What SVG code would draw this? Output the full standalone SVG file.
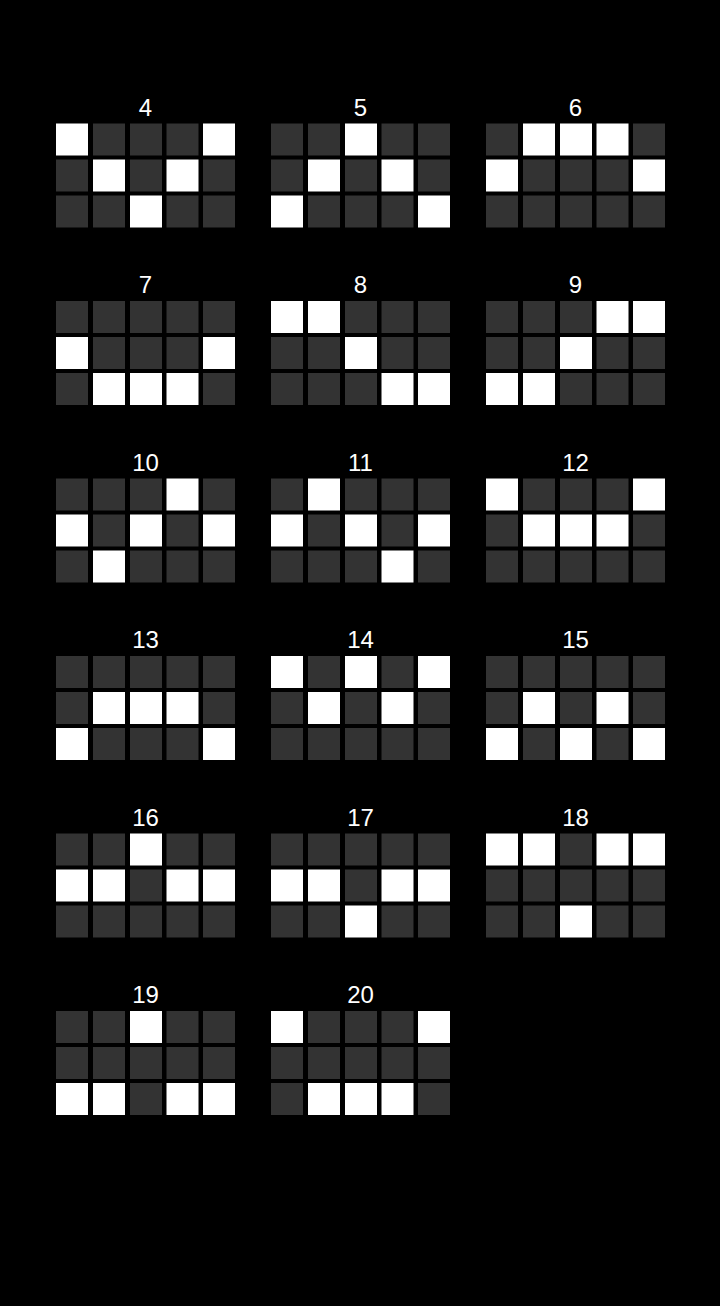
<svg xmlns="http://www.w3.org/2000/svg" width="720" height="1306" viewBox="0 0 720 1306">
<style>
.d{fill:#333333}
.w{fill:#ffffff}
rect.d,rect.w{width:32px;height:32px}
text{font-family:"Liberation Sans",Arial,sans-serif;font-size:24px;fill:#ffffff;text-anchor:middle}
</style>
<rect width="720" height="1306" fill="#000000"/>
<g id="p4" transform="translate(56,123.5)"><text x="89.5" y="-8">4</text>
<rect class="w" x="0" y="0" width="32" height="32"/><rect class="d" x="37" y="0" width="32" height="32"/><rect class="d" x="74" y="0" width="32" height="32"/><rect class="d" x="110.5" y="0" width="32" height="32"/><rect class="w" x="147" y="0" width="32" height="32"/>
<rect class="d" x="0" y="36" width="32" height="32"/><rect class="w" x="37" y="36" width="32" height="32"/><rect class="d" x="74" y="36" width="32" height="32"/><rect class="w" x="110.5" y="36" width="32" height="32"/><rect class="d" x="147" y="36" width="32" height="32"/>
<rect class="d" x="0" y="72" width="32" height="32"/><rect class="d" x="37" y="72" width="32" height="32"/><rect class="w" x="74" y="72" width="32" height="32"/><rect class="d" x="110.5" y="72" width="32" height="32"/><rect class="d" x="147" y="72" width="32" height="32"/>
</g>
<g id="p5" transform="translate(271,123.5)"><text x="89.5" y="-8">5</text>
<rect class="d" x="0" y="0" width="32" height="32"/><rect class="d" x="37" y="0" width="32" height="32"/><rect class="w" x="74" y="0" width="32" height="32"/><rect class="d" x="110.5" y="0" width="32" height="32"/><rect class="d" x="147" y="0" width="32" height="32"/>
<rect class="d" x="0" y="36" width="32" height="32"/><rect class="w" x="37" y="36" width="32" height="32"/><rect class="d" x="74" y="36" width="32" height="32"/><rect class="w" x="110.5" y="36" width="32" height="32"/><rect class="d" x="147" y="36" width="32" height="32"/>
<rect class="w" x="0" y="72" width="32" height="32"/><rect class="d" x="37" y="72" width="32" height="32"/><rect class="d" x="74" y="72" width="32" height="32"/><rect class="d" x="110.5" y="72" width="32" height="32"/><rect class="w" x="147" y="72" width="32" height="32"/>
</g>
<g id="p6" transform="translate(486,123.5)"><text x="89.5" y="-8">6</text>
<rect class="d" x="0" y="0" width="32" height="32"/><rect class="w" x="37" y="0" width="32" height="32"/><rect class="w" x="74" y="0" width="32" height="32"/><rect class="w" x="110.5" y="0" width="32" height="32"/><rect class="d" x="147" y="0" width="32" height="32"/>
<rect class="w" x="0" y="36" width="32" height="32"/><rect class="d" x="37" y="36" width="32" height="32"/><rect class="d" x="74" y="36" width="32" height="32"/><rect class="d" x="110.5" y="36" width="32" height="32"/><rect class="w" x="147" y="36" width="32" height="32"/>
<rect class="d" x="0" y="72" width="32" height="32"/><rect class="d" x="37" y="72" width="32" height="32"/><rect class="d" x="74" y="72" width="32" height="32"/><rect class="d" x="110.5" y="72" width="32" height="32"/><rect class="d" x="147" y="72" width="32" height="32"/>
</g>
<g id="p7" transform="translate(56,301)"><text x="89.5" y="-8">7</text>
<rect class="d" x="0" y="0" width="32" height="32"/><rect class="d" x="37" y="0" width="32" height="32"/><rect class="d" x="74" y="0" width="32" height="32"/><rect class="d" x="110.5" y="0" width="32" height="32"/><rect class="d" x="147" y="0" width="32" height="32"/>
<rect class="w" x="0" y="36" width="32" height="32"/><rect class="d" x="37" y="36" width="32" height="32"/><rect class="d" x="74" y="36" width="32" height="32"/><rect class="d" x="110.5" y="36" width="32" height="32"/><rect class="w" x="147" y="36" width="32" height="32"/>
<rect class="d" x="0" y="72" width="32" height="32"/><rect class="w" x="37" y="72" width="32" height="32"/><rect class="w" x="74" y="72" width="32" height="32"/><rect class="w" x="110.5" y="72" width="32" height="32"/><rect class="d" x="147" y="72" width="32" height="32"/>
</g>
<g id="p8" transform="translate(271,301)"><text x="89.5" y="-8">8</text>
<rect class="w" x="0" y="0" width="32" height="32"/><rect class="w" x="37" y="0" width="32" height="32"/><rect class="d" x="74" y="0" width="32" height="32"/><rect class="d" x="110.5" y="0" width="32" height="32"/><rect class="d" x="147" y="0" width="32" height="32"/>
<rect class="d" x="0" y="36" width="32" height="32"/><rect class="d" x="37" y="36" width="32" height="32"/><rect class="w" x="74" y="36" width="32" height="32"/><rect class="d" x="110.5" y="36" width="32" height="32"/><rect class="d" x="147" y="36" width="32" height="32"/>
<rect class="d" x="0" y="72" width="32" height="32"/><rect class="d" x="37" y="72" width="32" height="32"/><rect class="d" x="74" y="72" width="32" height="32"/><rect class="w" x="110.5" y="72" width="32" height="32"/><rect class="w" x="147" y="72" width="32" height="32"/>
</g>
<g id="p9" transform="translate(486,301)"><text x="89.5" y="-8">9</text>
<rect class="d" x="0" y="0" width="32" height="32"/><rect class="d" x="37" y="0" width="32" height="32"/><rect class="d" x="74" y="0" width="32" height="32"/><rect class="w" x="110.5" y="0" width="32" height="32"/><rect class="w" x="147" y="0" width="32" height="32"/>
<rect class="d" x="0" y="36" width="32" height="32"/><rect class="d" x="37" y="36" width="32" height="32"/><rect class="w" x="74" y="36" width="32" height="32"/><rect class="d" x="110.5" y="36" width="32" height="32"/><rect class="d" x="147" y="36" width="32" height="32"/>
<rect class="w" x="0" y="72" width="32" height="32"/><rect class="w" x="37" y="72" width="32" height="32"/><rect class="d" x="74" y="72" width="32" height="32"/><rect class="d" x="110.5" y="72" width="32" height="32"/><rect class="d" x="147" y="72" width="32" height="32"/>
</g>
<g id="p10" transform="translate(56,478.5)"><text x="89.5" y="-8">10</text>
<rect class="d" x="0" y="0" width="32" height="32"/><rect class="d" x="37" y="0" width="32" height="32"/><rect class="d" x="74" y="0" width="32" height="32"/><rect class="w" x="110.5" y="0" width="32" height="32"/><rect class="d" x="147" y="0" width="32" height="32"/>
<rect class="w" x="0" y="36" width="32" height="32"/><rect class="d" x="37" y="36" width="32" height="32"/><rect class="w" x="74" y="36" width="32" height="32"/><rect class="d" x="110.5" y="36" width="32" height="32"/><rect class="w" x="147" y="36" width="32" height="32"/>
<rect class="d" x="0" y="72" width="32" height="32"/><rect class="w" x="37" y="72" width="32" height="32"/><rect class="d" x="74" y="72" width="32" height="32"/><rect class="d" x="110.5" y="72" width="32" height="32"/><rect class="d" x="147" y="72" width="32" height="32"/>
</g>
<g id="p11" transform="translate(271,478.5)"><text x="89.5" y="-8">11</text>
<rect class="d" x="0" y="0" width="32" height="32"/><rect class="w" x="37" y="0" width="32" height="32"/><rect class="d" x="74" y="0" width="32" height="32"/><rect class="d" x="110.5" y="0" width="32" height="32"/><rect class="d" x="147" y="0" width="32" height="32"/>
<rect class="w" x="0" y="36" width="32" height="32"/><rect class="d" x="37" y="36" width="32" height="32"/><rect class="w" x="74" y="36" width="32" height="32"/><rect class="d" x="110.5" y="36" width="32" height="32"/><rect class="w" x="147" y="36" width="32" height="32"/>
<rect class="d" x="0" y="72" width="32" height="32"/><rect class="d" x="37" y="72" width="32" height="32"/><rect class="d" x="74" y="72" width="32" height="32"/><rect class="w" x="110.5" y="72" width="32" height="32"/><rect class="d" x="147" y="72" width="32" height="32"/>
</g>
<g id="p12" transform="translate(486,478.5)"><text x="89.5" y="-8">12</text>
<rect class="w" x="0" y="0" width="32" height="32"/><rect class="d" x="37" y="0" width="32" height="32"/><rect class="d" x="74" y="0" width="32" height="32"/><rect class="d" x="110.5" y="0" width="32" height="32"/><rect class="w" x="147" y="0" width="32" height="32"/>
<rect class="d" x="0" y="36" width="32" height="32"/><rect class="w" x="37" y="36" width="32" height="32"/><rect class="w" x="74" y="36" width="32" height="32"/><rect class="w" x="110.5" y="36" width="32" height="32"/><rect class="d" x="147" y="36" width="32" height="32"/>
<rect class="d" x="0" y="72" width="32" height="32"/><rect class="d" x="37" y="72" width="32" height="32"/><rect class="d" x="74" y="72" width="32" height="32"/><rect class="d" x="110.5" y="72" width="32" height="32"/><rect class="d" x="147" y="72" width="32" height="32"/>
</g>
<g id="p13" transform="translate(56,656)"><text x="89.5" y="-8">13</text>
<rect class="d" x="0" y="0" width="32" height="32"/><rect class="d" x="37" y="0" width="32" height="32"/><rect class="d" x="74" y="0" width="32" height="32"/><rect class="d" x="110.5" y="0" width="32" height="32"/><rect class="d" x="147" y="0" width="32" height="32"/>
<rect class="d" x="0" y="36" width="32" height="32"/><rect class="w" x="37" y="36" width="32" height="32"/><rect class="w" x="74" y="36" width="32" height="32"/><rect class="w" x="110.5" y="36" width="32" height="32"/><rect class="d" x="147" y="36" width="32" height="32"/>
<rect class="w" x="0" y="72" width="32" height="32"/><rect class="d" x="37" y="72" width="32" height="32"/><rect class="d" x="74" y="72" width="32" height="32"/><rect class="d" x="110.5" y="72" width="32" height="32"/><rect class="w" x="147" y="72" width="32" height="32"/>
</g>
<g id="p14" transform="translate(271,656)"><text x="89.5" y="-8">14</text>
<rect class="w" x="0" y="0" width="32" height="32"/><rect class="d" x="37" y="0" width="32" height="32"/><rect class="w" x="74" y="0" width="32" height="32"/><rect class="d" x="110.5" y="0" width="32" height="32"/><rect class="w" x="147" y="0" width="32" height="32"/>
<rect class="d" x="0" y="36" width="32" height="32"/><rect class="w" x="37" y="36" width="32" height="32"/><rect class="d" x="74" y="36" width="32" height="32"/><rect class="w" x="110.5" y="36" width="32" height="32"/><rect class="d" x="147" y="36" width="32" height="32"/>
<rect class="d" x="0" y="72" width="32" height="32"/><rect class="d" x="37" y="72" width="32" height="32"/><rect class="d" x="74" y="72" width="32" height="32"/><rect class="d" x="110.5" y="72" width="32" height="32"/><rect class="d" x="147" y="72" width="32" height="32"/>
</g>
<g id="p15" transform="translate(486,656)"><text x="89.5" y="-8">15</text>
<rect class="d" x="0" y="0" width="32" height="32"/><rect class="d" x="37" y="0" width="32" height="32"/><rect class="d" x="74" y="0" width="32" height="32"/><rect class="d" x="110.5" y="0" width="32" height="32"/><rect class="d" x="147" y="0" width="32" height="32"/>
<rect class="d" x="0" y="36" width="32" height="32"/><rect class="w" x="37" y="36" width="32" height="32"/><rect class="d" x="74" y="36" width="32" height="32"/><rect class="w" x="110.5" y="36" width="32" height="32"/><rect class="d" x="147" y="36" width="32" height="32"/>
<rect class="w" x="0" y="72" width="32" height="32"/><rect class="d" x="37" y="72" width="32" height="32"/><rect class="w" x="74" y="72" width="32" height="32"/><rect class="d" x="110.5" y="72" width="32" height="32"/><rect class="w" x="147" y="72" width="32" height="32"/>
</g>
<g id="p16" transform="translate(56,833.5)"><text x="89.5" y="-8">16</text>
<rect class="d" x="0" y="0" width="32" height="32"/><rect class="d" x="37" y="0" width="32" height="32"/><rect class="w" x="74" y="0" width="32" height="32"/><rect class="d" x="110.5" y="0" width="32" height="32"/><rect class="d" x="147" y="0" width="32" height="32"/>
<rect class="w" x="0" y="36" width="32" height="32"/><rect class="w" x="37" y="36" width="32" height="32"/><rect class="d" x="74" y="36" width="32" height="32"/><rect class="w" x="110.5" y="36" width="32" height="32"/><rect class="w" x="147" y="36" width="32" height="32"/>
<rect class="d" x="0" y="72" width="32" height="32"/><rect class="d" x="37" y="72" width="32" height="32"/><rect class="d" x="74" y="72" width="32" height="32"/><rect class="d" x="110.5" y="72" width="32" height="32"/><rect class="d" x="147" y="72" width="32" height="32"/>
</g>
<g id="p17" transform="translate(271,833.5)"><text x="89.5" y="-8">17</text>
<rect class="d" x="0" y="0" width="32" height="32"/><rect class="d" x="37" y="0" width="32" height="32"/><rect class="d" x="74" y="0" width="32" height="32"/><rect class="d" x="110.5" y="0" width="32" height="32"/><rect class="d" x="147" y="0" width="32" height="32"/>
<rect class="w" x="0" y="36" width="32" height="32"/><rect class="w" x="37" y="36" width="32" height="32"/><rect class="d" x="74" y="36" width="32" height="32"/><rect class="w" x="110.5" y="36" width="32" height="32"/><rect class="w" x="147" y="36" width="32" height="32"/>
<rect class="d" x="0" y="72" width="32" height="32"/><rect class="d" x="37" y="72" width="32" height="32"/><rect class="w" x="74" y="72" width="32" height="32"/><rect class="d" x="110.5" y="72" width="32" height="32"/><rect class="d" x="147" y="72" width="32" height="32"/>
</g>
<g id="p18" transform="translate(486,833.5)"><text x="89.5" y="-8">18</text>
<rect class="w" x="0" y="0" width="32" height="32"/><rect class="w" x="37" y="0" width="32" height="32"/><rect class="d" x="74" y="0" width="32" height="32"/><rect class="w" x="110.5" y="0" width="32" height="32"/><rect class="w" x="147" y="0" width="32" height="32"/>
<rect class="d" x="0" y="36" width="32" height="32"/><rect class="d" x="37" y="36" width="32" height="32"/><rect class="d" x="74" y="36" width="32" height="32"/><rect class="d" x="110.5" y="36" width="32" height="32"/><rect class="d" x="147" y="36" width="32" height="32"/>
<rect class="d" x="0" y="72" width="32" height="32"/><rect class="d" x="37" y="72" width="32" height="32"/><rect class="w" x="74" y="72" width="32" height="32"/><rect class="d" x="110.5" y="72" width="32" height="32"/><rect class="d" x="147" y="72" width="32" height="32"/>
</g>
<g id="p19" transform="translate(56,1011)"><text x="89.5" y="-8">19</text>
<rect class="d" x="0" y="0" width="32" height="32"/><rect class="d" x="37" y="0" width="32" height="32"/><rect class="w" x="74" y="0" width="32" height="32"/><rect class="d" x="110.5" y="0" width="32" height="32"/><rect class="d" x="147" y="0" width="32" height="32"/>
<rect class="d" x="0" y="36" width="32" height="32"/><rect class="d" x="37" y="36" width="32" height="32"/><rect class="d" x="74" y="36" width="32" height="32"/><rect class="d" x="110.5" y="36" width="32" height="32"/><rect class="d" x="147" y="36" width="32" height="32"/>
<rect class="w" x="0" y="72" width="32" height="32"/><rect class="w" x="37" y="72" width="32" height="32"/><rect class="d" x="74" y="72" width="32" height="32"/><rect class="w" x="110.5" y="72" width="32" height="32"/><rect class="w" x="147" y="72" width="32" height="32"/>
</g>
<g id="p20" transform="translate(271,1011)"><text x="89.5" y="-8">20</text>
<rect class="w" x="0" y="0" width="32" height="32"/><rect class="d" x="37" y="0" width="32" height="32"/><rect class="d" x="74" y="0" width="32" height="32"/><rect class="d" x="110.5" y="0" width="32" height="32"/><rect class="w" x="147" y="0" width="32" height="32"/>
<rect class="d" x="0" y="36" width="32" height="32"/><rect class="d" x="37" y="36" width="32" height="32"/><rect class="d" x="74" y="36" width="32" height="32"/><rect class="d" x="110.5" y="36" width="32" height="32"/><rect class="d" x="147" y="36" width="32" height="32"/>
<rect class="d" x="0" y="72" width="32" height="32"/><rect class="w" x="37" y="72" width="32" height="32"/><rect class="w" x="74" y="72" width="32" height="32"/><rect class="w" x="110.5" y="72" width="32" height="32"/><rect class="d" x="147" y="72" width="32" height="32"/>
</g>
<g id="connectors"/>
</svg>
